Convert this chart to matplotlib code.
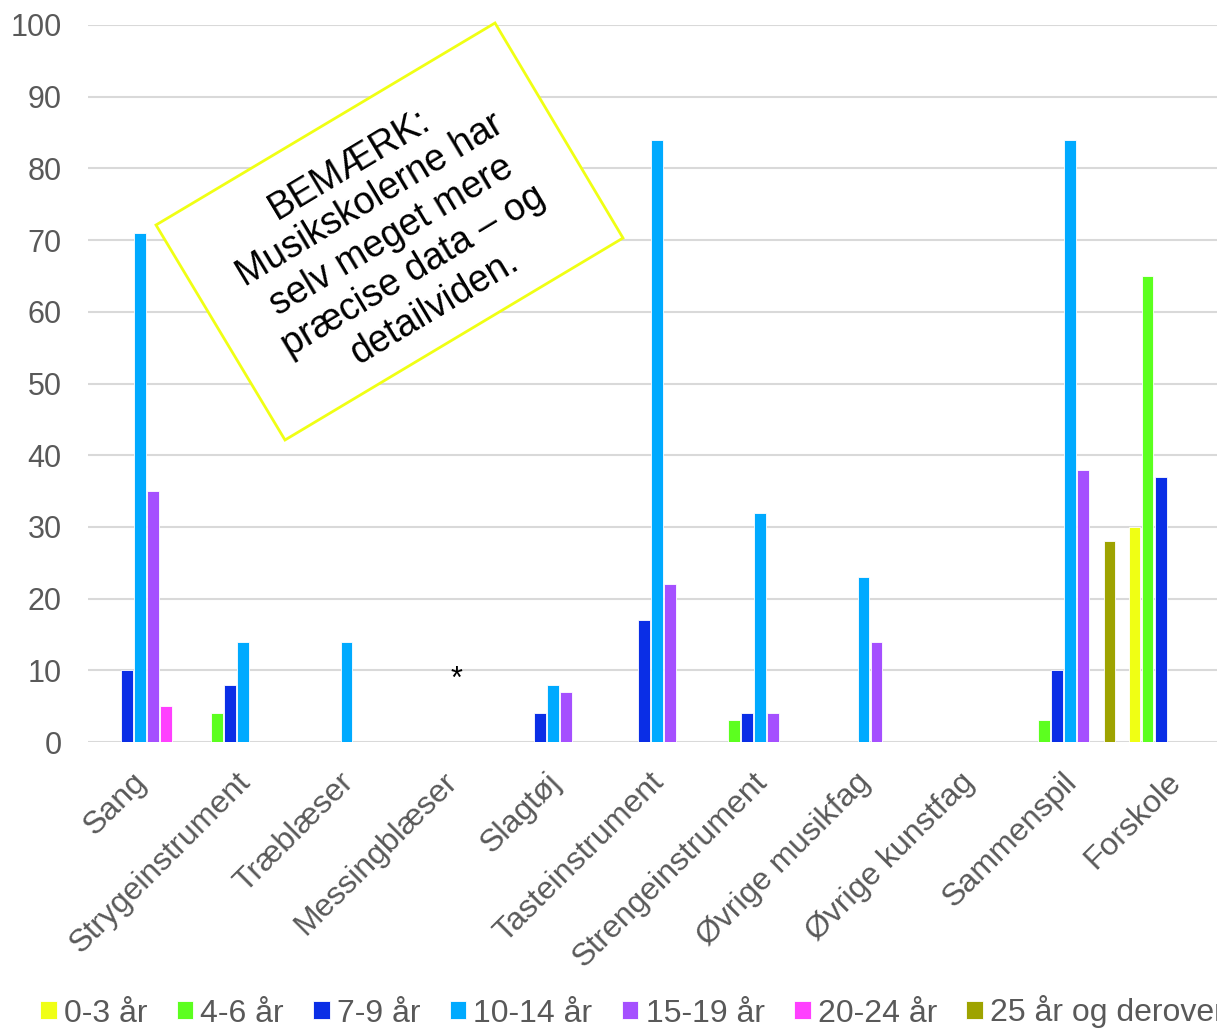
import matplotlib
matplotlib.use("Agg")
import matplotlib.pyplot as plt
import matplotlib.transforms as mtrans
import numpy as np
from matplotlib.patches import Polygon

plt.rcParams['font.family'] = ['Liberation Sans', 'DejaVu Sans']

categories = ['Sang', 'Strygeinstrument', 'Træblæser', 'Messingblæser', 'Slagtøj',
              'Tasteinstrument', 'Strengeinstrument', 'Øvrige musikfag',
              'Øvrige kunstfag', 'Sammenspil', 'Forskole']
series_names = ['0-3 år', '4-6 år', '7-9 år', '10-14 år', '15-19 år', '20-24 år',
                '25 år og derover']
colors = ['#F0FF14', '#5CFF1F', '#0A2EE6', '#00AAFF', '#A550FF', '#FF40FF', '#9EA300']

age_0_3 = [0, 0, 0, 0, 0, 0, 0, 0, 0, 0, 30]
age_4_6 = [0, 4, 0, 0, 0, 0, 3, 0, 0, 3, 65]
age_7_9 = [10, 8, 0, 0, 4, 17, 4, 0, 0, 10, 37]
age_10_14 = [71, 14, 14, 0, 8, 84, 32, 23, 0, 84, 0]
age_15_19 = [35, 0, 0, 0, 7, 22, 4, 14, 0, 38, 0]
age_20_24 = [5, 0, 0, 0, 0, 0, 0, 0, 0, 0, 0]
age_25_plus = [0, 0, 0, 0, 0, 0, 0, 0, 0, 28, 0]
series = [age_0_3, age_4_6, age_7_9, age_10_14, age_15_19, age_20_24, age_25_plus]

W, H = 1217, 1028
fig = plt.figure(figsize=(W / 100, H / 100), dpi=100)
ax = fig.add_axes([88 / W, 1 - 742 / H, 1137.4 / W, 717 / H])

x = np.arange(len(categories))
step = 0.126
handles = []
for i, (vals, c, name) in enumerate(zip(series, colors, series_names)):
    v = np.array(vals, dtype=float)
    h = ax.bar(x + (i - 3) * step, np.where(v > 0, v, np.nan), width=0.113, color=c,
               edgecolor='white', linewidth=0.6, label=name, zorder=3)
    handles.append(h)

# no data for Messingblæser
ax.text(3.06, 8.7, '*', ha='center', va='center', fontsize=22, color='black', zorder=4)

ax.set_xlim(-0.5, 10.5)
ax.set_ylim(0, 100)
ax.set_yticks(np.arange(0, 101, 10))
ax.grid(axis='y', color='#D9D9D9', linewidth=1.5, zorder=0)
ax.set_axisbelow(True)
for s in ax.spines.values():
    s.set_visible(False)
ax.tick_params(axis='y', length=0, pad=19, labelsize=22, labelcolor='#595959')
ax.tick_params(axis='x', length=0, pad=18, labelsize=23, labelcolor='#595959')
ax.set_xticks(x)
ax.set_xticklabels(categories, rotation=45, ha='right', rotation_mode='anchor')
shift = mtrans.ScaledTranslation(-8 / 100, 0, fig.dpi_scale_trans)
for lab in ax.get_xticklabels():
    lab.set_transform(lab.get_transform() + shift)

fig.legend(handles=handles, labels=series_names, ncol=7, loc='center left',
           bbox_to_anchor=(40 / W, 1 - 1012 / H), frameon=False, fontsize=23,
           labelcolor='#595959', handlelength=0.52, handleheight=0.52,
           handletextpad=0.22, columnspacing=0.92, borderpad=0, borderaxespad=0)

# rotated note box
corners = [(156, 225), (495, 23), (623, 238), (285, 440)]
fig.patches.append(Polygon([(cx / W, 1 - cy / H) for cx, cy in corners], closed=True,
                           facecolor='white', edgecolor='#F0FF14', linewidth=2,
                           transform=fig.transFigure, zorder=5))
note = 'BEMÆRK:\nMusikskolerne har\nselv meget mere\npræcise data – og\ndetailviden.'
fig.text(392 / W, 1 - 236 / H, note, ha='center', va='center', multialignment='center',
         rotation=31, fontsize=27, color='black', zorder=6, linespacing=1.2)

fig.savefig('out.png', dpi=100)
